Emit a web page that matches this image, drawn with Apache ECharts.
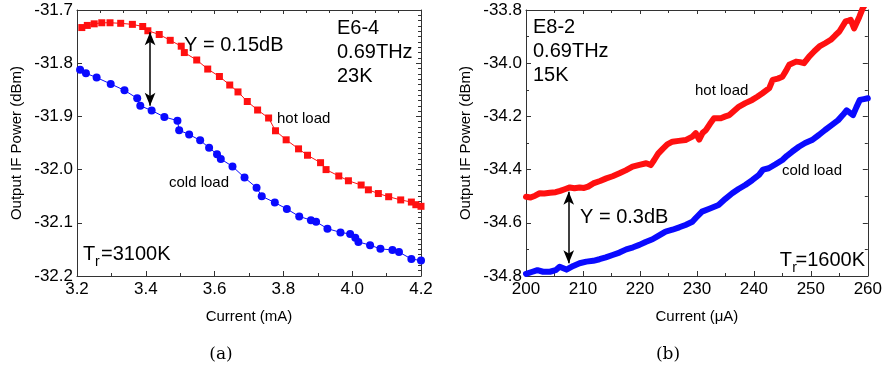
<!DOCTYPE html>
<html>
<head>
<meta charset="utf-8">
<script src="https://cdn.jsdelivr.net/npm/echarts@6/dist/echarts.min.js"></script>
<style>html,body{margin:0;padding:0;background:#fff;}#c{width:885px;height:371px;}</style>
</head>
<body>
<div id="c"></div>
<script>
// ---------- Panel (a) data ----------
const hotA_x = [3.214,3.230,3.250,3.272,3.296,3.327,3.361,3.391,3.406,3.439,3.471,3.503,3.512,3.548,3.580,3.614,3.644,3.668,3.695,3.725,3.757,3.777,3.808,3.844,3.870,3.908,3.924,3.961,3.989,4.026,4.047,4.076,4.106,4.141,4.172,4.185,4.200];
const hotA_y = [-31.733,-31.729,-31.726,-31.724,-31.724,-31.725,-31.727,-31.731,-31.739,-31.746,-31.757,-31.768,-31.780,-31.794,-31.811,-31.825,-31.841,-31.854,-31.872,-31.888,-31.903,-31.927,-31.944,-31.961,-31.973,-31.987,-32.000,-32.012,-32.021,-32.029,-32.038,-32.045,-32.051,-32.057,-32.061,-32.066,-32.069];
const coldA_x = [3.209,3.226,3.257,3.298,3.338,3.375,3.384,3.417,3.454,3.492,3.497,3.526,3.558,3.584,3.607,3.618,3.652,3.687,3.722,3.737,3.775,3.810,3.846,3.880,3.895,3.928,3.966,3.994,4.009,4.018,4.052,4.082,4.117,4.136,4.172,4.200];
const coldA_y = [-31.8125,-31.819,-31.827,-31.839,-31.851,-31.866,-31.880,-31.889,-31.901,-31.908,-31.926,-31.934,-31.945,-31.959,-31.971,-31.980,-31.994,-32.015,-32.034,-32.050,-32.062,-32.074,-32.088,-32.095,-32.098,-32.111,-32.118,-32.121,-32.128,-32.136,-32.142,-32.149,-32.151,-32.155,-32.168,-32.171];

// ---------- Panel (b) data ----------
const hotB_x = [200,200.8,201.6,202.4,203.2,204.2,205.2,206.0,206.8,207.7,208.5,209.4,210.2,210.9,211.8,213.0,214.1,215.2,216.4,217.5,218.7,219.9,221.1,221.9,222.5,223.2,224.0,224.8,225.7,226.8,228.0,229.2,229.8,230.4,231.0,231.6,232.3,233.0,234.2,235.0,235.7,236.5,237.4,238.5,239.7,240.6,241.5,242.7,243.3,244.2,245.0,245.6,246.2,247.4,248.1,248.8,249.7,250.6,251.5,252.5,253.5,254.3,255.0,255.6,256.1,256.6,257.0,257.6,258.0,258.5,259.1,259.5];
const hotB_y = [-34.502,-34.505,-34.498,-34.489,-34.490,-34.487,-34.485,-34.480,-34.474,-34.467,-34.470,-34.467,-34.469,-34.464,-34.452,-34.443,-34.433,-34.425,-34.414,-34.403,-34.389,-34.382,-34.376,-34.383,-34.364,-34.340,-34.322,-34.305,-34.295,-34.292,-34.289,-34.276,-34.263,-34.287,-34.262,-34.251,-34.228,-34.207,-34.207,-34.200,-34.195,-34.180,-34.163,-34.150,-34.138,-34.126,-34.113,-34.094,-34.063,-34.058,-34.051,-34.030,-34.006,-33.994,-33.996,-34.000,-33.975,-33.955,-33.937,-33.925,-33.912,-33.895,-33.881,-33.860,-33.843,-33.840,-33.837,-33.869,-33.850,-33.826,-33.794,-33.780];
const coldB_x = [200,201,202,203,204.2,205.2,205.9,207.1,208.3,209.4,210.6,211.8,212.9,214.0,215.2,216.4,217.6,218.8,219.9,221.0,222.2,223.3,224.5,225.7,226.9,228.0,229.2,229.8,230.9,232.3,233.8,235.0,236.2,237.3,238.5,239.7,240.9,241.6,242.6,243.8,245.0,245.8,246.7,247.9,249.0,250.2,251.4,252.5,253.7,254.8,255.6,256.3,257.4,258.0,258.6,259.3,260];
const coldB_y = [-34.792,-34.785,-34.778,-34.784,-34.784,-34.778,-34.765,-34.776,-34.762,-34.752,-34.746,-34.743,-34.737,-34.730,-34.721,-34.712,-34.700,-34.692,-34.683,-34.672,-34.662,-34.648,-34.633,-34.626,-34.617,-34.608,-34.596,-34.582,-34.558,-34.546,-34.533,-34.510,-34.489,-34.473,-34.458,-34.440,-34.420,-34.400,-34.395,-34.380,-34.364,-34.348,-34.333,-34.314,-34.300,-34.289,-34.270,-34.251,-34.232,-34.214,-34.195,-34.177,-34.195,-34.165,-34.138,-34.135,-34.132];

// annotation arrow positions (data coords)
const arrowA = [[3.4124,-31.742],[3.4124,-31.880]];
const arrowB = [[207.5,-34.483],[207.5,-34.752]];

const zip = (xs, ys) => xs.map((x,i)=>[x, ys[i]]);

const FONT = '"Liberation Sans", Arial, sans-serif';
const AX = '#333';

function mainX(grid, min, max, interval, minorSplit, name, digits) {
  return {
    type:'value', gridIndex:grid, min, max, interval, position:'bottom',
    name, nameLocation:'middle', nameGap:33,
    nameTextStyle:{fontFamily:FONT, fontSize:15, color:'#000'},
    axisLine:{show:true, onZero:false, lineStyle:{color:AX, width:1}},
    axisTick:{show:true, inside:true, length:5, lineStyle:{color:AX}},
    minorTick:{show:true, splitNumber:minorSplit, length:3, lineStyle:{color:AX}},
    axisLabel:{fontFamily:FONT, fontSize:17, color:'#000', margin:5,
      formatter:v=>v.toFixed(digits)},
    splitLine:{show:false}
  };
}
function topX(grid, min, max, interval, minorSplit) {
  return {
    type:'value', gridIndex:grid, min, max, interval, position:'top',
    axisLine:{show:true, onZero:false, lineStyle:{color:AX, width:1}},
    axisTick:{show:true, inside:true, length:4, lineStyle:{color:AX}},
    minorTick:{show:minorSplit>0, splitNumber:minorSplit||1, length:3, lineStyle:{color:AX}},
    axisLabel:{show:false}, splitLine:{show:false}
  };
}
function mainY(grid, min, max, interval, minorSplit) {
  return {
    type:'value', gridIndex:grid, min, max, interval, position:'left',
    name:'Output IF Power (dBm)', nameLocation:'middle', nameGap:53,
    nameTextStyle:{fontFamily:FONT, fontSize:15, color:'#000'},
    axisLine:{show:true, onZero:false, lineStyle:{color:AX, width:1}},
    axisTick:{show:true, inside:true, length:5, lineStyle:{color:AX}},
    minorTick:{show:minorSplit>0, splitNumber:minorSplit||1, length:3, lineStyle:{color:AX}},
    axisLabel:{fontFamily:FONT, fontSize:17, color:'#000', margin:4,
      formatter:v=>v.toFixed(1)},
    splitLine:{show:false}
  };
}
function rightY(grid, min, max, interval, minorSplit) {
  return {
    type:'value', gridIndex:grid, min, max, interval, position:'right',
    axisLine:{show:true, onZero:false, lineStyle:{color:AX, width:1}},
    axisTick:{show:true, inside:true, length:5, lineStyle:{color:AX}},
    minorTick:{show:true, splitNumber:minorSplit, length:3, lineStyle:{color:AX}},
    axisLabel:{show:false}, splitLine:{show:false}
  };
}

function txt(x, y, text, size, align) {
  return {type:'text', x, y, silent:true,
    style:{text, fontFamily:FONT, fontSize:size, fill:'#000',
      textAlign:align||'left', textVerticalAlign:'middle'}};
}
function cap(x, y, text) {
  return {type:'text', x, y, silent:true,
    style:{text, fontFamily:'"DejaVu Serif", "Liberation Serif", serif', fontSize:17, fill:'#000',
      textAlign:'center', textVerticalAlign:'middle'}};
}

const arrowMark = (pts) => ({
  silent:true, symbol:['arrow','arrow'], symbolSize:[8,13],
  lineStyle:{color:'#000', width:1.5, type:'solid'},
  label:{show:false}, emphasis:{disabled:true},
  data:[[{coord:pts[0]},{coord:pts[1]}]]
});

const option = {
  animation:false,
  backgroundColor:'#fff',
  grid:[
    {left:77, width:344, top:10, height:266},
    {left:526, width:344, top:10, height:266}
  ],
  xAxis:[
    mainX(0, 3.2, 4.2, 0.2, 2, 'Current (mA)', 1),
    topX(0, 3.2, 4.2, 0.2, 3),
    mainX(1, 200, 260, 10, 2, 'Current (\u03bcA)', 0),
    topX(1, 200, 260, 10, 2)
  ],
  yAxis:[
    mainY(0, -32.2, -31.7, 0.1, 0),
    rightY(0, -32.2, -31.7, 0.1, 10),
    mainY(1, -34.8, -33.8, 0.2, 2),
    rightY(1, -34.8, -33.8, 0.2, 2)
  ],
  series:[
    {type:'line', name:'hot load (a)', xAxisIndex:0, yAxisIndex:0, data:zip(hotA_x, hotA_y),
      symbol:'rect', symbolSize:7, showAllSymbol:true,
      itemStyle:{color:'#ff1010'}, lineStyle:{color:'#ff1010', width:1},
      markLine:arrowMark(arrowA)},
    {type:'line', name:'cold load (a)', xAxisIndex:0, yAxisIndex:0, data:zip(coldA_x, coldA_y),
      symbol:'circle', symbolSize:8, showAllSymbol:true,
      itemStyle:{color:'#0a0aff'}, lineStyle:{color:'#0a0aff', width:1}},
    {type:'line', name:'hot load (b)', xAxisIndex:2, yAxisIndex:2, data:zip(hotB_x, hotB_y),
      symbol:'none', clip:true,
      lineStyle:{color:'#ff1010', width:6, join:'round', cap:'round'},
      markLine:arrowMark(arrowB)},
    {type:'line', name:'cold load (b)', xAxisIndex:2, yAxisIndex:2, data:zip(coldB_x, coldB_y),
      symbol:'none', clip:true,
      lineStyle:{color:'#0a0aff', width:6, join:'round', cap:'round'}}
  ],
  graphic:[
    // panel (a)
    txt(337, 28, 'E6-4', 20),
    txt(337, 52, '0.69THz', 20),
    txt(337, 76, '23K', 20),
    txt(184, 45, 'Y = 0.15dB', 20),
    txt(277, 119, 'hot load', 15),
    txt(169, 183, 'cold load', 15),
    txt(83, 254, 'T', 20),
    txt(95, 262, 'r', 14),
    txt(101, 254, '=3100K', 20),
    // panel (b)
    txt(533, 27, 'E8-2', 20),
    txt(533, 51, '0.69THz', 20),
    txt(533, 75, '15K', 20),
    txt(695, 91, 'hot load', 15),
    txt(782, 171, 'cold load', 15),
    txt(580, 217, 'Y = 0.3dB', 20),
    txt(865, 260, '=1600K', 20, 'right'),
    txt(797, 268, 'r', 14, 'right'),
    txt(792, 260, 'T', 20, 'right'),
    // captions
    cap(221, 355, '(a)'),
    cap(668, 355, '(b)')
  ]
};

const chart = echarts.init(document.getElementById('c'), null, {renderer:'canvas'});
chart.setOption(option);
</script>
</body>
</html>
